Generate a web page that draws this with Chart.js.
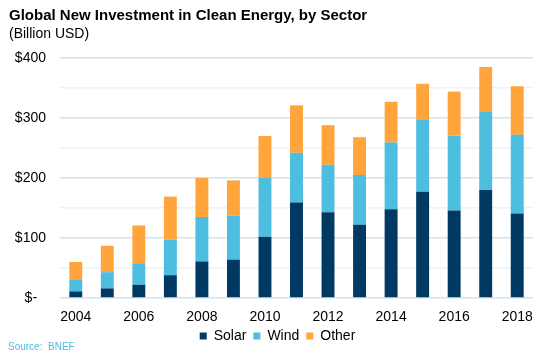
<!DOCTYPE html>
<html><head><meta charset="utf-8">
<script src="https://cdn.jsdelivr.net/npm/chart.js@4/dist/chart.umd.min.js"></script>
<style>
html,body{margin:0;padding:0;background:#fff;}
#wrap{position:relative;width:550px;height:357px;font-family:"Liberation Sans",Arial,sans-serif;}
#title{position:absolute;left:9px;top:6px;font-size:15px;font-weight:bold;color:#000;}
#sub{position:absolute;left:9px;top:25px;font-size:14px;color:#000;}
#src{position:absolute;left:8px;top:341px;font-size:10px;color:#4DBDE0;}
canvas{position:absolute;left:0;top:0;}
</style></head><body>
<div id="wrap">
<canvas id="c" width="550" height="357"></canvas>
<div id="title">Global New Investment in Clean Energy, by Sector</div>
<div id="sub">(Billion USD)</div>
<div id="src">Source:&nbsp; BNEF</div>
</div>
<script>
const years = ['2004','2005','2006','2007','2008','2009','2010','2011','2012','2013','2014','2015','2016','2017','2018'];
const solar = [11,16,22,38,61,64,102,159,143,122,148,177,146,180,141];
const wind  = [19,27,36,59,74,73,98,83,79,83,111,121,125,130,131];
const other = [30,44,63,72,65,59,70,79,66,63,68,59,73,75,81];
const yTicks = [0,100,200,300,400];

const legendShift = {
  id:'legendShift',
  afterLayout(chart){ if(chart.legend){ chart.legend.left += 10; chart.legend.right += 10; } }
};

new Chart(document.getElementById('c'), {
  type: 'bar',
  data: {
    labels: years,
    datasets: [
      {label:'Solar', data: solar, backgroundColor:'#003A63'},
      {label:'Wind', data: wind, backgroundColor:'#4DBDE0'},
      {label:'Other', data: other, backgroundColor:'#FFA53C'}
    ]
  },
  plugins:[legendShift],
  options: {
    responsive:false, animation:false,
    layout:{padding:{top:58,left:2,right:17,bottom:4}},
    datasets:{bar:{barPercentage:0.41,categoryPercentage:1}},
    scales:{
      x:{stacked:true, grid:{display:false}, border:{display:false},
         afterFit:function(s){ s.height = 24; },
         ticks:{color:'#000', padding:3, font:{size:14,family:'"Liberation Sans", Arial'}, maxRotation:0, autoSkip:false,
           callback:function(v,i){return i%2===0?years[i]:'';}}},
      y:{stacked:true, min:0, max:400, border:{display:false},
         afterFit:function(s){ s.width = 58; },
         grid:{drawTicks:false, tickLength:0, color:function(ctx){return (ctx.tick && ctx.tick.value%100===0)?'#CFE3F5':'#EAF3FB';}, lineWidth:1.5},
         ticks:{stepSize:50, color:'#000', padding:14, font:{size:14,family:'"Liberation Sans", Arial'},
           callback:function(v){ if(v%100!==0) return ''; return v===0?'$-  \u200A':'$'+v; }}}
    },
    plugins:{
      legend:{position:'bottom', labels:{boxWidth:7, boxHeight:7, padding:7, color:'#000', font:{size:14,family:'"Liberation Sans", Arial'}}},
      tooltip:{enabled:false}
    }
  }
});
</script>
</body></html>
